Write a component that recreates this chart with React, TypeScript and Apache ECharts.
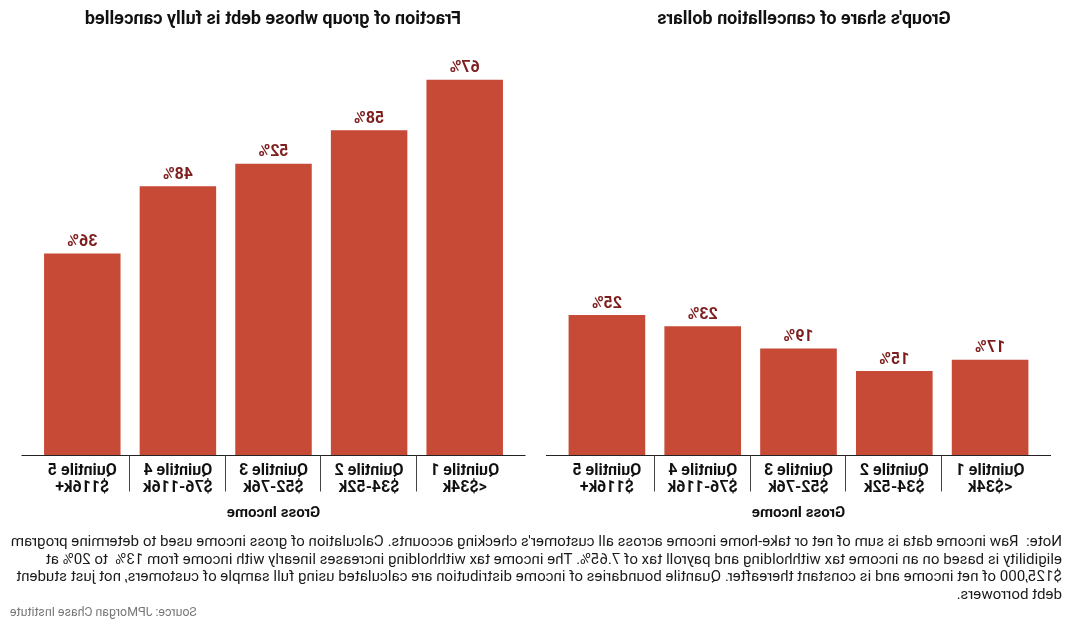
import React, { useEffect, useRef } from 'react';
import * as echarts from 'echarts';

// ---- data ----
const quintiles = ['Quintile 1', 'Quintile 2', 'Quintile 3', 'Quintile 4', 'Quintile 5'];
const incomeRanges = ['<$34k', '$34-52k', '$52-76k', '$76-116k', '$116k+'];
const shareOfCancellationDollars = [17, 15, 19, 23, 25];
const fractionFullyCancelled = [67, 58, 52, 48, 36];
const panelTitles = ["Group's share of cancellation dollars", 'Fraction of group whose debt is fully cancelled'];
const xAxisTitle = 'Gross Income';
const noteLines = [
  "Note:  Raw income data is sum of net or take-home income across all customer's checking accounts. Calculation of gross income used to determine program",
  'eligibility is based on an income tax withholding and payroll tax of 7.65%. The income tax withholding increases linearly with income from 13%  to 20% at',
  '$125,000 of net income and is constant thereafter. Quantile boundaries of income distribution are calculated using full sample of customers, not just student',
  'debt borrowers.',
];
const sourceText = 'Source: JPMorgan Chase Institute';

const BAR = '#C64A36';
const LABEL = '#7E1D1D';
const FONT = 'Roboto, "Noto Sans", sans-serif';
const NOTE_FONT = 'Roboto, "Noto Sans", sans-serif';

const grids = [
  { left: 32, width: 479 },
  { left: 557.5, width: 478 },
];
const seriesData = [shareOfCancellationDollars, fractionFullyCancelled];

function measure(text: string, font: string): number {
  const t = new (echarts.graphic as any).Text({ style: { text, font } });
  return t.getBoundingRect().width;
}

export default function App() {
  const ref = useRef<HTMLDivElement>(null);
  useEffect(() => {
    const chart = echarts.init(ref.current as HTMLDivElement, null, { renderer: 'svg' });
    const option: any = {
      animation: false,
      backgroundColor: '#fff',
      grid: grids.map((g) => ({ left: g.left, width: g.width, top: 7, height: 448 })),
      xAxis: grids.map((_, gi) => ({
        type: 'category',
        gridIndex: gi,
        data: quintiles,
        axisLine: { show: false },
        axisTick: { show: false },
        axisLabel: {
          interval: 0,
          margin: 6,
          color: '#111',
          fontFamily: FONT,
          fontWeight: 'bold',
          fontSize: 16,
          lineHeight: 17,
          formatter: (v: string, i: number) => `${v}\n${incomeRanges[i]}`,
        },
        name: xAxisTitle,
        nameLocation: 'middle',
        nameGap: 49,
        nameTextStyle: { color: '#111', fontFamily: FONT, fontWeight: 'bold', fontSize: 15 },
      })),
      yAxis: grids.map((_, gi) => ({
        type: 'value',
        gridIndex: gi,
        min: 0,
        max: 80,
        show: false,
        splitLine: { show: false },
      })),
      series: seriesData.map((d, gi) => ({
        type: 'bar',
        xAxisIndex: gi,
        yAxisIndex: gi,
        data: d,
        barCategoryGap: '20%',
        itemStyle: { color: BAR },
        label: {
          show: true,
          position: 'top',
          distance: 5,
          formatter: '{c}%',
          color: LABEL,
          fontFamily: FONT,
          fontWeight: 'bold',
          fontSize: 16,
        },
      })),
    };
    chart.setOption(option);

    const graphics: any[] = [];
    grids.forEach((g, gi) => {
      const centers = quintiles.map((_, i) => chart.convertToPixel({ xAxisIndex: gi }, i) as number);
      const y0 = Math.round(chart.convertToPixel({ yAxisIndex: gi }, 0) as number) + 0.5;
      const step = centers[1] - centers[0];
      const leftEdge = centers[0] - step / 2;
      const rightEdge = centers[centers.length - 1] + step / 2;
      graphics.push({
        type: 'line',
        shape: { x1: leftEdge - 13, y1: y0, x2: rightEdge + 13, y2: y0 },
        style: { stroke: '#222', lineWidth: 1 },
        silent: true,
      });
      for (let i = 1; i < centers.length; i++) {
        const x = Math.round((centers[i - 1] + centers[i]) / 2) + 0.5;
        graphics.push({
          type: 'line',
          shape: { x1: x, y1: y0, x2: x, y2: y0 + 36 },
          style: { stroke: '#444', lineWidth: 1 },
          silent: true,
        });
      }
      graphics.push({
        type: 'text',
        x: gi === 0 ? 266 : 797,
        y: 17,
        style: {
          text: panelTitles[gi],
          fill: '#111',
          font: `bold 18px ${FONT}`,
          align: 'center',
          verticalAlign: 'middle',
          textAlign: 'center',
          textVerticalAlign: 'middle',
        },
      });
    });

    const noteFont = `15.5px ${NOTE_FONT}`;
    const noteScale = 1052 / measure(noteLines[0], noteFont);
    noteLines.forEach((t, i) => {
      graphics.push({
        type: 'text',
        x: 8,
        y: 541 + i * 17.7,
        scaleX: noteScale,
        style: {
          text: t,
          fill: '#1a1a1a',
          font: noteFont,
          align: 'left',
          verticalAlign: 'middle',
          textAlign: 'left',
          textVerticalAlign: 'middle',
        },
      });
    });
    const srcFont = `13.5px ${NOTE_FONT}`;
    const srcScale = 187 / measure(sourceText, srcFont);
    graphics.push({
      type: 'text',
      x: 1060,
      y: 611,
      scaleX: srcScale,
      style: {
        text: sourceText,
        fill: '#777',
        font: srcFont,
        align: 'right',
        verticalAlign: 'middle',
        textAlign: 'right',
        textVerticalAlign: 'middle',
      },
    });
    chart.setOption({ graphic: graphics });

    return () => chart.dispose();
  }, []);

  return (
    <div
      ref={ref}
      style={{ position: 'fixed', left: 0, top: 0, width: 1070, height: 624, transform: 'scaleX(-1)' }}
    />
  );
}
